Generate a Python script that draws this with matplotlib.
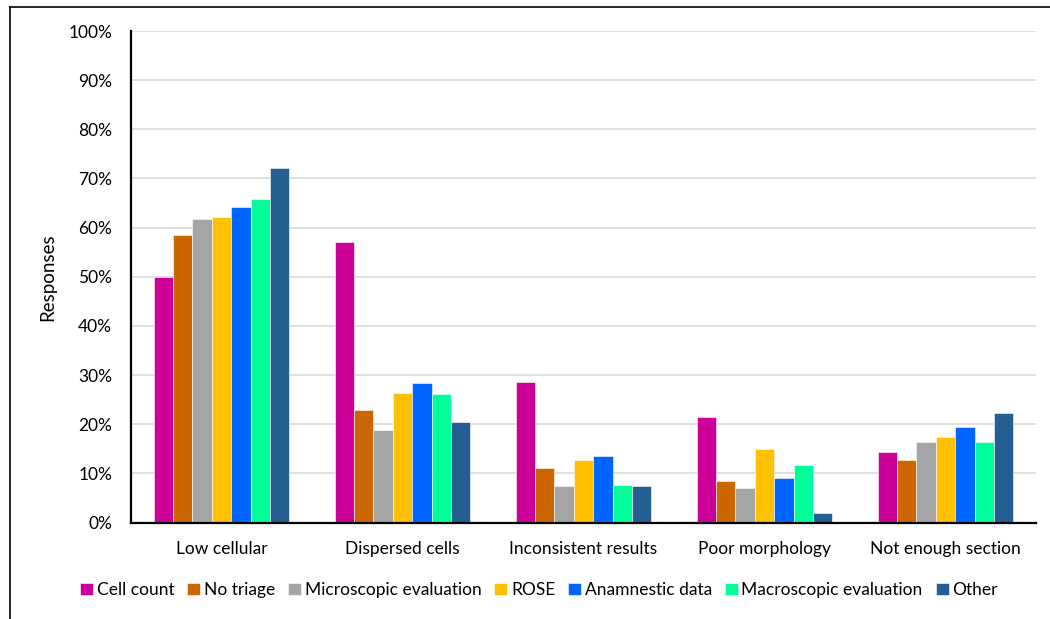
import numpy as np
import matplotlib.pyplot as plt
from matplotlib.lines import Line2D
from matplotlib.ticker import PercentFormatter

plt.rcParams['font.family'] = ['Lato', 'DejaVu Sans']

categories = ['Low cellular', 'Dispersed cells', 'Inconsistent results',
              'Poor morphology', 'Not enough section']
series_names = ['Cell count', 'No triage', 'Microscopic evaluation', 'ROSE',
                'Anamnestic data', 'Macroscopic evaluation', 'Other']

cell_count = [50.0, 57.1, 28.5, 21.4, 14.3]
no_triage = [58.5, 22.9, 11.0, 8.5, 12.7]
microscopic = [61.7, 18.9, 7.4, 7.0, 16.4]
rose = [62.1, 26.4, 12.7, 15.0, 17.3]
anamnestic = [64.2, 28.4, 13.5, 9.0, 19.4]
macroscopic = [65.8, 26.1, 7.6, 11.6, 16.4]
other = [72.2, 20.4, 7.4, 1.9, 22.3]

colors = ['#CC0099', '#CC6600', '#A5A5A5', '#FFC000', '#0066FF', '#00FF99', '#255E91']

series = [cell_count, no_triage, microscopic, rose, anamnestic, macroscopic, other]

fig = plt.figure(figsize=(10.5, 6.19), dpi=100)
ax = fig.add_axes([131 / 1050, 1 - 522.5 / 619, 905 / 1050, (522.5 - 31) / 619])

x = np.arange(len(categories))
width = 0.107
for i, (vals, name, c) in enumerate(zip(series, series_names, colors)):
    offset = (i - 3) * width
    ax.bar(x + offset, vals, width, color=c, label=name,
           edgecolor='white', linewidth=0.4, zorder=3)

ax.set_xlim(-0.5, len(categories) - 0.5)
ax.set_ylim(0, 100)
ax.set_yticks(np.arange(0, 101, 10))
ax.yaxis.set_major_formatter(PercentFormatter(decimals=0))
ax.set_xticks(x)
ax.set_xticklabels(categories)
ax.tick_params(axis='both', length=0, labelsize=12.5, colors='black')
ax.tick_params(axis='x', pad=13)
ax.tick_params(axis='y', pad=13.5)
ax.grid(axis='y', color='#D9D9D9', linewidth=1.2, zorder=0)
ax.set_ylabel('Responses', fontsize=13.5, labelpad=9)

for s in ['top', 'right']:
    ax.spines[s].set_visible(False)
for s in ['left', 'bottom']:
    ax.spines[s].set_linewidth(1.6)
    ax.spines[s].set_color('black')
    ax.spines[s].set_zorder(4)

fig.legend(loc='center', bbox_to_anchor=(539 / 1050, 1 - 590 / 619), ncol=7,
           frameon=False, fontsize=12.5, handlelength=0.75, handleheight=0.75,
           handletextpad=0.2, columnspacing=0.75)

# outer frame lines
fig.add_artist(Line2D([9.5 / 1050, 9.5 / 1050], [0, 1 - 6.5 / 619],
                      transform=fig.transFigure, color='black', linewidth=1.2))
fig.add_artist(Line2D([9.5 / 1050, 1], [1 - 6.5 / 619, 1 - 6.5 / 619],
                      transform=fig.transFigure, color='black', linewidth=1.2))

fig.savefig('out.png', dpi=100)
